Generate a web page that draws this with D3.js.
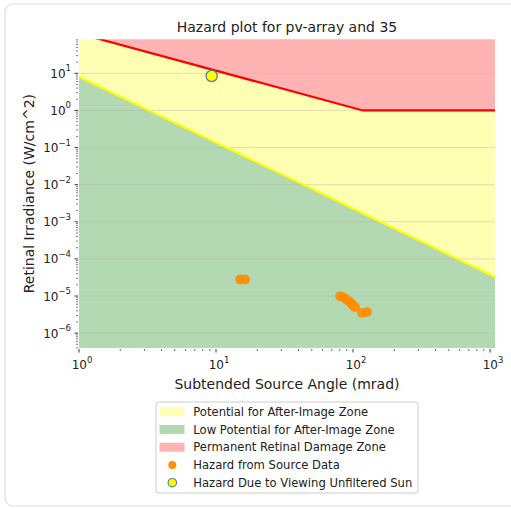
<!DOCTYPE html>
<html><head><meta charset="utf-8">
<script src="https://cdn.jsdelivr.net/npm/d3@7"></script>
<style>body{margin:0;background:#fff;} text{font-family:"DejaVu Sans",sans-serif;fill:#222;}</style>
</head><body><svg id="c" width="511" height="508"></svg>
<script>
const xTicks = [1, 10, 100, 1000];
const yTicks = [1e-6, 1e-5, 1e-4, 1e-3, 1e-2, 1e-1, 1, 10];
const afterImageAngle = [1, 10, 100, 1000, 1100];
const afterImageIrr = [8.1, 0.136, 0.00228, 3.8e-5, 3.2e-5];
const burnAngle = [1, 118, 1100];
const burnIrr = [118, 1, 1];
const sourceAngle = [15.0, 16.3, 80.4, 84.5, 88.9, 93.5, 96.6, 100, 103.4, 116.4, 126.5];
const sourceIrr = [2.8e-5, 2.8e-5, 9.9e-6, 9.3e-6, 8.2e-6, 7.3e-6, 6.4e-6, 5.7e-6, 5.0e-6, 3.5e-6, 3.7e-6];
const sunAngle = [9.3];
const sunIrr = [8.46];
const legendLabels = ["Potential for After-Image Zone", "Low Potential for After-Image Zone", "Permanent Retinal Damage Zone", "Hazard from Source Data", "Hazard Due to Viewing Unfiltered Sun"];
const titleText = "Hazard plot for pv-array and 35";
const xLabel = "Subtended Source Angle (mrad)";
const yLabel = "Retinal Irradiance (W/cm^2)";

const svg = d3.select("#c");
const L = 79, R = 495, T = 39.3, B = 348;
const x = d3.scaleLog().domain([1, Math.pow(10, 3.036)]).range([L, R]);
const y = d3.scaleLog().domain([Math.pow(10, -6.40), Math.pow(10, 1.917)]).range([B, T]);

svg.append("rect").attr("x", 5).attr("y", 4).attr("width", 530).attr("height", 502).attr("rx", 8)
  .attr("fill", "#fff").attr("stroke", "#dcdcdc").attr("stroke-width", 1.2);

svg.append("defs").append("clipPath").attr("id", "clip").append("rect")
  .attr("x", L).attr("y", T).attr("width", R - L).attr("height", B - T);
const g = svg.append("g").attr("clip-path", "url(#clip)");

g.append("rect").attr("x", L).attr("y", T).attr("width", R - L).attr("height", B - T).attr("fill", "#ffffb3");
const ai = afterImageAngle.map((a, i) => [a, afterImageIrr[i]]);
const burn = burnAngle.map((a, i) => [a, burnIrr[i]]);
g.append("path").datum(ai).attr("fill", "#b3d9b3")
  .attr("d", d3.area().x(d => x(d[0])).y0(B + 5).y1(d => y(d[1])));
g.append("path").datum(burn).attr("fill", "#ffb3b3")
  .attr("d", d3.area().x(d => x(d[0])).y0(T - 5).y1(d => y(d[1])));

// gridlines
g.selectAll(".grid").data(yTicks).join("line")
  .attr("x1", L).attr("x2", R).attr("y1", d => y(d)).attr("y2", d => y(d))
  .attr("stroke", "#b0b0b0").attr("stroke-opacity", 0.45).attr("stroke-width", 0.9);

const line = d3.line().x(d => x(d[0])).y(d => y(d[1]));
g.append("path").datum(ai).attr("fill", "none").attr("stroke", "#ffff00").attr("stroke-width", 2.2).attr("d", line);
g.append("path").datum(burn).attr("fill", "none").attr("stroke", "#ff0000").attr("stroke-width", 2.2).attr("d", line);

g.selectAll(".src").data(sourceAngle.map((a, i) => [a, sourceIrr[i]])).join("circle")
  .attr("cx", d => x(d[0])).attr("cy", d => y(d[1])).attr("r", 4.9)
  .attr("fill", "#ff8c00").attr("fill-opacity", 0.9);
g.selectAll(".sun").data(sunAngle.map((a, i) => [a, sunIrr[i]])).join("circle")
  .attr("cx", d => x(d[0])).attr("cy", d => y(d[1])).attr("r", 5.6)
  .attr("fill", "#ffff00").attr("stroke", "#4f7f9a").attr("stroke-width", 1.3);

// axes
const minor = [];
for (let e = -7; e <= 3; e++) for (let k = 2; k <= 9; k++) minor.push(k * Math.pow(10, e));
const xd = x.domain(), yd = y.domain();
const xMinor = minor.filter(v => v > xd[0] && v < xd[1]);
const yMinor = minor.filter(v => v > yd[0] && v < yd[1]);
const ax = svg.append("g");
ax.selectAll(".xt").data(xTicks).join("line").attr("x1", d => x(d)).attr("x2", d => x(d))
  .attr("y1", B + 1).attr("y2", B + 4.5).attr("stroke", "#222").attr("stroke-width", 0.9);
ax.selectAll(".xm").data(xMinor).join("line").attr("x1", d => x(d)).attr("x2", d => x(d))
  .attr("y1", B + 1).attr("y2", B + 3).attr("stroke", "#222").attr("stroke-width", 0.7);
ax.selectAll(".yt").data(yTicks).join("line").attr("y1", d => y(d)).attr("y2", d => y(d))
  .attr("x1", L - 4.5).attr("x2", L - 1).attr("stroke", "#222").attr("stroke-width", 0.9);
ax.selectAll(".ym").data(yMinor).join("line").attr("y1", d => y(d)).attr("y2", d => y(d))
  .attr("x1", L - 3).attr("x2", L - 1).attr("stroke", "#222").attr("stroke-width", 0.6);

function sup(sel, v) {
  const e = Math.round(Math.log10(v));
  sel.append("tspan").text("10");
  sel.append("tspan").attr("dy", -6.5).attr("font-size", "8.5px").text(e < 0 ? "\u2212" + (-e) : String(e));
}
xTicks.forEach(v => {
  const t = ax.append("text").attr("x", x(v) + 3).attr("y", B + 21).attr("text-anchor", "middle").attr("font-size", "12px");
  sup(t, v);
});
yTicks.forEach(v => {
  const t = ax.append("text").attr("x", L - 8).attr("y", y(v) + 4.5).attr("text-anchor", "end").attr("font-size", "12px");
  sup(t, v);
});

svg.append("text").attr("x", (L + R) / 2).attr("y", 32).attr("text-anchor", "middle").attr("font-size", "14px").text(titleText);
svg.append("text").attr("x", (L + R) / 2).attr("y", 389).attr("text-anchor", "middle").attr("font-size", "14px").text(xLabel);
svg.append("text").attr("transform", `translate(34,${(T + B) / 2}) rotate(-90)`).attr("text-anchor", "middle").attr("font-size", "14px").text(yLabel);

// legend
const lg = svg.append("g");
lg.append("rect").attr("x", 156).attr("y", 402).attr("width", 262).attr("height", 91).attr("rx", 3)
  .attr("fill", "#fff").attr("stroke", "#cccccc").attr("stroke-width", 1);
const rowY = i => 411.7 + i * 17.75;
const patchColors = ["#ffffb3", "#b3d9b3", "#ffb3b3"];
patchColors.forEach((c, i) => lg.append("rect").attr("x", 159.5).attr("y", rowY(i) - 4.5).attr("width", 25).attr("height", 9).attr("fill", c));
lg.append("circle").attr("cx", 172.3).attr("cy", rowY(3)).attr("r", 4).attr("fill", "#ff8c00").attr("fill-opacity", 0.95);
lg.append("circle").attr("cx", 172.3).attr("cy", rowY(4)).attr("r", 4.2).attr("fill", "#ffff00").attr("stroke", "#4f7f9a").attr("stroke-width", 1.2);
legendLabels.forEach((s, i) => lg.append("text").attr("x", 193.3).attr("y", rowY(i) + 4.2).attr("font-size", "11.6px").text(s));
</script></body></html>
